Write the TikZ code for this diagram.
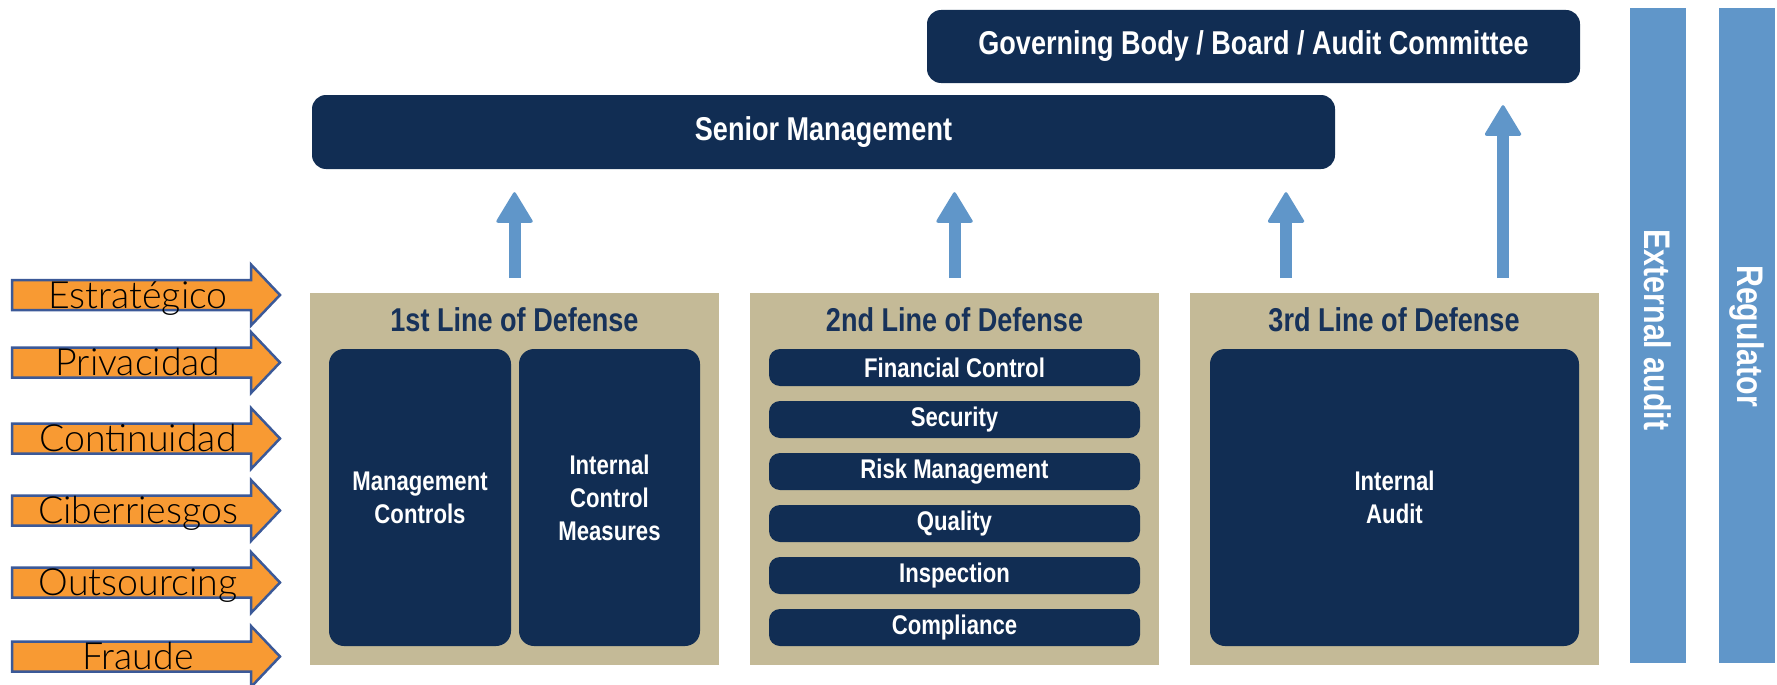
\documentclass[tikz,border=0pt]{standalone}
\usepackage{fontspec}
\usetikzlibrary{arrows.meta}
\newfontfamily\condfont[FakeStretch=0.82]{Liberation Sans}
\newfontfamily\latofont{Lato}[UprightFont={* Light}]
\definecolor{navy}{RGB}{17,45,83}
\definecolor{tanc}{RGB}{196,186,151}
\definecolor{lblue}{RGB}{96,150,201}
\definecolor{orng}{RGB}{248,154,51}
\definecolor{oborder}{RGB}{59,89,152}
\definecolor{titlec}{RGB}{23,50,90}
\tikzset{
  darkbox/.style={fill=navy, rounded corners=14pt, text=white, inner sep=0pt, align=center,
    font=\condfont\bfseries\fontsize{33}{36}\selectfont},
  innerbox/.style={fill=navy, rounded corners=15pt, text=white, inner sep=0pt, align=center,
    font=\condfont\bfseries\fontsize{27}{33}\selectfont, minimum height=297pt},
  itembox/.style={fill=navy, rounded corners=11pt, text=white, inner sep=0pt,
    minimum width=371pt, minimum height=37pt,
    font=\condfont\bfseries\fontsize{27}{30}\selectfont},
  tanbox/.style={fill=tanc, inner sep=0pt, minimum width=409pt, minimum height=372pt},
  linetitle/.style={text=titlec, inner sep=0pt, font=\condfont\bfseries\fontsize{33}{36}\selectfont},
  sidebar/.style={fill=lblue, inner sep=0pt, minimum width=56pt, minimum height=655pt},
  bartext/.style={text=white, rotate=-90, inner sep=0pt, font=\condfont\bfseries\fontsize{37}{40}\selectfont},
  uparrow/.style={draw=lblue, line width=12pt,
    -{Triangle[width=38pt,length=32pt,round,line width=3pt]}},
  riskarrow/.style={fill=orng, draw=oborder, line width=2.5pt, line join=miter},
  risklabel/.style={anchor=base, inner sep=0pt, text=black, font=\latofont\fontsize{37.5}{37.5}\selectfont}
}
\begin{document}
\begin{tikzpicture}[x=1pt,y=-1pt]
\useasboundingbox (0,0) rectangle (1777,685);

% top boxes
\node[darkbox, minimum width=653pt, minimum height=73pt] (gb) at (1253.5,46.5) {Governing Body / Board / Audit Committee};
\node[darkbox, minimum width=1023pt, minimum height=74pt] (sm) at (823.5,132) {Senior Management};

% side bars
\node[sidebar] (ea) at (1658,335.5) {};
\node[sidebar] (rg) at (1746.5,335.5) {};
\node[bartext] (eat) at (1658,330) {External audit};
\node[bartext] (rgt) at (1746.5,336) {Regulator};

% tan boxes
\node[tanbox] (l1) at (514.5,479) {};
\node[tanbox] (l2) at (954.5,479) {};
\node[tanbox] (l3) at (1394,479) {};

\node[linetitle] (t1) at (514.5,320) {1st Line of Defense};
\node[linetitle] (t2) at (954.5,320) {2nd Line of Defense};
\node[linetitle] (t3) at (1394,320) {3rd Line of Defense};

% 1st line content
\node[innerbox, minimum width=182pt] (mc) at (420,497.5) {Management\\Controls};
\node[innerbox, minimum width=181pt] (icm) at (609.5,497.5) {Internal\\Control\\Measures};

% 2nd line content
\node[itembox] (fc) at (954.5,367.5) {Financial Control};
\node[itembox] (se) at (954.5,419.5) {Security};
\node[itembox] (rm) at (954.5,471.5) {Risk Management};
\node[itembox] (qu) at (954.5,523.5) {Quality};
\node[itembox] (in) at (954.5,575.5) {Inspection};
\node[itembox] (co) at (954.5,627.5) {Compliance};

% 3rd line content
\node[innerbox, minimum width=369pt] (ia) at (1394.5,497.5) {Internal\\Audit};

% up arrows
\coordinate (a3) at (1286,293);
\coordinate (a4) at (1503,293);
\draw[uparrow, shorten <=15pt, shorten >=23pt] (l1.north) -- (l1.north |- sm.south);
\draw[uparrow, shorten <=15pt, shorten >=23pt] (l2.north) -- (l2.north |- sm.south);
\draw[uparrow, shorten <=15pt, shorten >=23pt] (a3) -- (a3 |- sm.south);
\draw[uparrow, shorten <=15pt, shorten >=22pt] (a4) -- (a4 |- gb.south);

% risk arrows
\foreach \c/\name/\txt in {295/r1/Estratégico, 362.5/r2/Privacidad, 438.5/r3/Continuidad,
    510.5/r4/Ciberriesgos, 582.5/r5/Outsourcing, 656.5/r6/Fraude}{
  \draw[riskarrow] (12,\c-15) -- (251,\c-15) -- (251,\c-30.5) -- (280,\c)
     -- (251,\c+30.5) -- (251,\c+15) -- (12,\c+15) -- cycle;
  \node[risklabel] (\name) at (138,\c+13) {\txt};
}
\end{tikzpicture}
\end{document}
